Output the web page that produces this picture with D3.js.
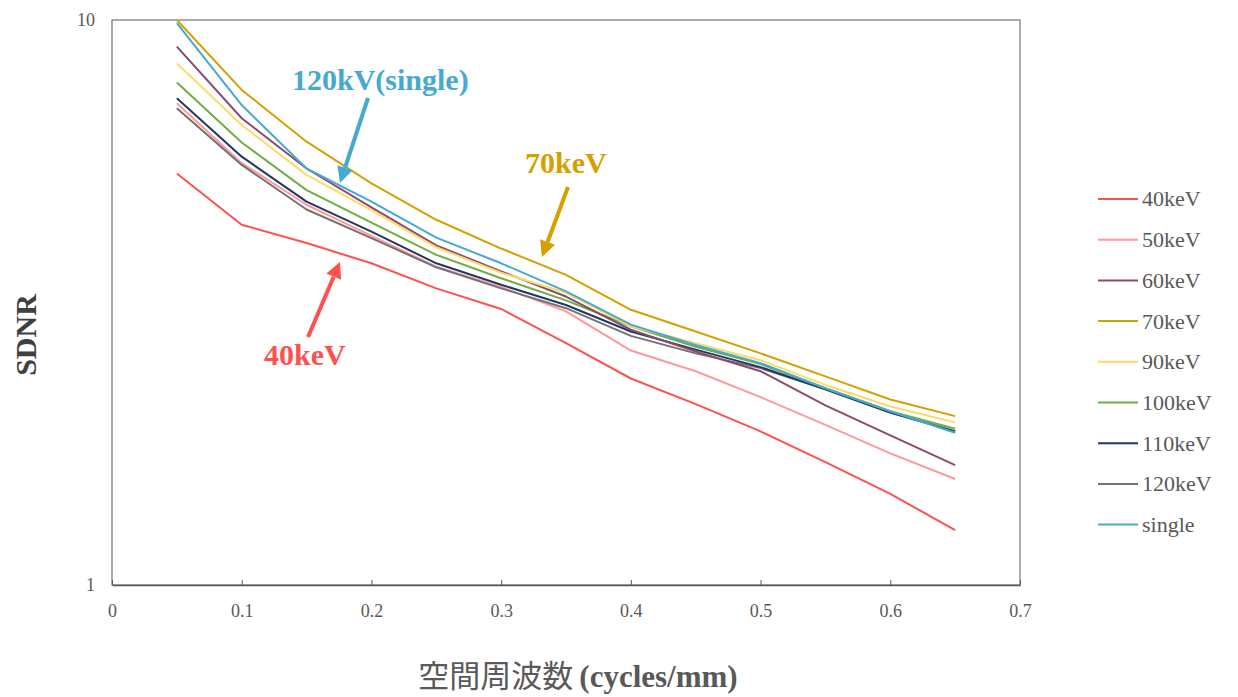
<!DOCTYPE html>
<html>
<head>
<meta charset="utf-8">
<script src="https://cdn.jsdelivr.net/npm/d3@7"></script>
<style>
  html, body { margin: 0; padding: 0; background: #fff; }
  svg { display: block; }
</style>
</head>
<body>
<svg id="chart" width="1238" height="697"></svg>
<script>
// ---- data ----
const freqs = [0.05, 0.1, 0.15, 0.2, 0.25, 0.3, 0.35, 0.4, 0.45, 0.5, 0.55, 0.6, 0.65];
const seriesNames = ["40keV", "50keV", "60keV", "70keV", "90keV", "100keV", "110keV", "120keV", "single"];
const s40  = [5.35, 4.34, 4.03, 3.71, 3.35, 3.08, 2.68, 2.32, 2.09, 1.87, 1.65, 1.45, 1.25];
const s50  = [7.12, 5.58, 4.71, 4.15, 3.66, 3.37, 3.05, 2.60, 2.39, 2.15, 1.92, 1.71, 1.54];
const s60  = [8.97, 6.70, 5.46, 4.66, 3.99, 3.59, 3.24, 2.83, 2.59, 2.39, 2.08, 1.84, 1.63];
const s70  = [10.0, 7.52, 6.09, 5.14, 4.43, 3.94, 3.54, 3.07, 2.81, 2.57, 2.34, 2.13, 1.99];
const s90  = [8.38, 6.52, 5.32, 4.61, 3.96, 3.57, 3.29, 2.87, 2.68, 2.50, 2.26, 2.07, 1.94];
const s100 = [7.75, 6.07, 5.00, 4.38, 3.84, 3.49, 3.19, 2.87, 2.64, 2.46, 2.23, 2.03, 1.89];
const s110 = [7.27, 5.73, 4.77, 4.22, 3.71, 3.40, 3.13, 2.81, 2.61, 2.43, 2.22, 2.02, 1.87];
const s120 = [6.98, 5.54, 4.62, 4.11, 3.65, 3.35, 3.09, 2.76, 2.57, 2.42, 2.22, 2.02, 1.87];
const sSingle = [9.87, 7.07, 5.46, 4.77, 4.12, 3.71, 3.31, 2.89, 2.66, 2.47, 2.23, 2.03, 1.86];
const seriesValues = [s40, s50, s60, s70, s90, s100, s110, s120, sSingle];
const seriesColors = ["#FF5050", "#FF9999", "#8A4B6E", "#D4A000", "#FFD966", "#70AD47", "#203864", "#767171", "#45A9D0"];
const xTicks = [0, 0.1, 0.2, 0.3, 0.4, 0.5, 0.6, 0.7];
const yTicks = [1, 10];

// ---- layout ----
const svg = d3.select("#chart");
const L = 112, R = 1020, T = 20, B = 585;
const x = d3.scaleLinear().domain([0, 0.7]).range([L, R]);
const y = d3.scaleLog().domain([1, 10]).range([B, T]);
const serif = "'Liberation Serif', 'Times New Roman', serif";
const axisCol = "#595959";

// plot frame
svg.append("rect").attr("x", L).attr("y", T).attr("width", R - L).attr("height", B - T)
  .attr("fill", "none").attr("stroke", axisCol).attr("stroke-width", 1);

// x axis (inside ticks)
const xAxis = d3.axisBottom(x).tickValues(xTicks).tickSizeInner(-5).tickSizeOuter(0)
  .tickFormat(d => d === 0 ? "0" : d3.format(".1f")(d));
const gx = svg.append("g").attr("transform", `translate(0,${B})`).call(xAxis);
gx.select(".domain").attr("stroke", axisCol).attr("stroke-width", 1.5);
gx.selectAll(".tick line").attr("stroke", axisCol);
gx.selectAll(".tick text").attr("font-family", serif).attr("font-size", 18)
  .attr("fill", axisCol).attr("dy", 0).attr("y", 32);

// y axis labels
const yAxis = d3.axisLeft(y).tickValues(yTicks).tickSize(0).tickFormat(d3.format("d"));
const gy = svg.append("g").attr("transform", `translate(${L},0)`).call(yAxis);
gy.select(".domain").remove();
gy.selectAll(".tick text").attr("font-family", serif).attr("font-size", 18)
  .attr("fill", axisCol).attr("x", -17).attr("dy", "0.32em");

// lines
const line = d3.line().x((d, i) => x(freqs[i])).y(d => y(d));
const drawOrder = [1, 0, 7, 6, 5, 2, 4, 8, 3];
drawOrder.forEach(k => {
  svg.append("path").datum(seriesValues[k]).attr("d", line)
    .attr("fill", "none").attr("stroke", seriesColors[k]).attr("stroke-width", 2)
    .attr("stroke-linejoin", "round");
});

// legend
const lg = svg.append("g");
seriesNames.forEach((n, i) => {
  const yy = 199 + i * 40.7;
  lg.append("line").attr("x1", 1098).attr("x2", 1138).attr("y1", yy).attr("y2", yy)
    .attr("stroke", seriesColors[i]).attr("stroke-width", 2);
  lg.append("text").attr("x", 1142).attr("y", yy).attr("dy", "0.34em")
    .attr("font-family", serif).attr("font-size", 22).attr("fill", axisCol).text(n);
});

// axis titles
svg.append("text").attr("transform", "translate(36,335) rotate(-90)")
  .attr("text-anchor", "middle").attr("font-family", serif).attr("font-weight", "bold")
  .attr("font-size", 30).attr("fill", "#404040").text("SDNR");
const xt = svg.append("text").attr("x", 578).attr("y", 687).attr("text-anchor", "middle")
  .attr("font-size", 31).attr("fill", axisCol);
xt.append("tspan").attr("font-family", "'Noto Sans CJK JP', sans-serif").attr("font-weight", 400).text("空間周波数");
xt.append("tspan").attr("dx", 6).attr("font-family", serif).attr("font-weight", "bold").text("(cycles/mm)");

// annotations
function arrow(x1, y1, x2, y2, col) {
  const ang = Math.atan2(y2 - y1, x2 - x1);
  const hl = 16, hw = 8;
  const bx = x2 - hl * Math.cos(ang), by = y2 - hl * Math.sin(ang);
  svg.append("line").attr("x1", x1).attr("y1", y1).attr("x2", bx).attr("y2", by)
    .attr("stroke", col).attr("stroke-width", 4);
  const px = -Math.sin(ang) * hw, py = Math.cos(ang) * hw;
  svg.append("path").attr("d", `M${x2},${y2}L${bx + px},${by + py}L${bx - px},${by - py}Z`).attr("fill", col);
}
const ann = [
  { t: "120kV(single)", x: 292, y: 90, c: "#45A9D0", a: [368, 98, 340, 183] },
  { t: "70keV", x: 525, y: 173, c: "#D4A000", a: [568, 187, 542, 257] },
  { t: "40keV", x: 264, y: 365, c: "#FF5050", a: [308, 337, 340, 262] }
];
ann.forEach(d => {
  svg.append("text").attr("x", d.x).attr("y", d.y).attr("font-family", serif)
    .attr("font-weight", "bold").attr("font-size", 30).attr("fill", d.c).text(d.t);
  arrow(...d.a, d.c);
});
</script>
</body>
</html>
